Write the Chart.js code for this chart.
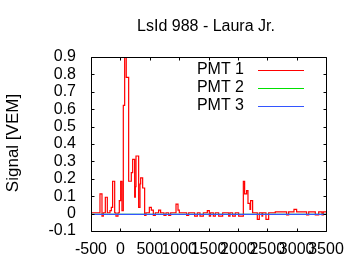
<!DOCTYPE html>
<html>
<head>
<meta charset="utf-8">
<script src="https://cdn.jsdelivr.net/npm/chart.js@4/dist/chart.umd.min.js"></script>
<style>
html,body{margin:0;padding:0;background:#fff;}
#wrap{width:360px;height:270px;position:relative;}
</style>
</head>
<body>
<div id="wrap"><canvas id="c" width="360" height="270"></canvas></div>
<script>
// ---- data ----
const chartTitle = "LsId 988 - Laura Jr.";
const yAxisTitle = "Signal [VEM]";
const seriesNames = ["PMT 1", "PMT 2", "PMT 3"];
const xTicks = [-500, 0, 500, 1000, 1500, 2000, 2500, 3000, 3500];
const yTicks = [-0.1, 0, 0.1, 0.2, 0.3, 0.4, 0.5, 0.6, 0.7, 0.8, 0.9];

// PMT 1 step change points (x) and the value held from that x onward
const pmt1X = [-500, -347, -313, -290, -256, -222, -177, -154, -132, -97, -75, -41, -18, 5, 27, 50, 73, 100, 141,
  186, 209, 243, 255, 266, 311, 334, 345, 379, 413, 436, 493, 527, 561, 595, 651, 685, 742, 776, 822, 856,
  947, 981, 1003, 1128, 1162, 1264, 1310, 1355, 1412, 1480, 1514, 1536, 1582, 1616, 1673, 1741, 1843, 1866,
  1911, 1956, 2013, 2093, 2115, 2149, 2172, 2206, 2217, 2251, 2331, 2365, 2410, 2422, 2478, 2524, 2637,
  2830, 2864, 2955, 3000, 3170, 3205, 3318, 3375, 3432, 3454, 3500];
const pmt1Y = [0.005, 0.113, -0.014, 0.005, 0.094, 0.005, 0.017, 0.036, 0.186, 0.005, -0.014, 0.005, 0.074, 0.186, 0.017, 0.622, 0.95, 0.783, 0.186,
  0.235, 0.312, 0.094, 0.155, 0.331, 0.036, 0.17, 0.205, 0.147, -0.01, 0.005, 0.036, 0.02, -0.01, 0.005, 0.02, 0.005, -0.01, 0.005, -0.01, 0.005,
  0.055, 0.02, 0.005, -0.01, 0.005, -0.014, 0.005, -0.014, 0.005, 0.017, -0.014, 0.005, -0.014, 0.005, -0.014, 0.005, -0.014, 0.005,
  -0.014, 0.005, -0.014, 0.186, 0.113, 0.132, 0.059, 0.024, 0.074, 0.005, -0.033, 0.005, -0.014, 0.005, -0.033, 0.005, 0.01,
  -0.008, 0.01, 0.024, 0.01, -0.008, 0.01, -0.008, 0.01, -0.008, 0.01, 0.01];

const pmt2X = [-500, 500, 1500, 2500, 3500];
const pmt2Y = [-0.004, -0.004, -0.004, -0.004, -0.004];
const pmt3X = [-500, 500, 1500, 2500, 3500];
const pmt3Y = [-0.004, -0.004, -0.004, -0.004, -0.004];

const colors = ["#ff0000", "#00e000", "#3355ff"];
const FONT = "'Liberation Sans', Arial, sans-serif";

// value at x[i] is held until x[i+1]: draw as horizontal-then-vertical steps
function pts(xs, ys) {
  const out = [];
  xs.forEach((x, i) => {
    if (i > 0) out.push({x: x, y: ys[i - 1]});
    out.push({x: x, y: ys[i]});
  });
  return out;
}

const PAD_LEFT = 0, PLOT_LEFT = 91, PLOT_TOP = 57, PLOT_BOTTOM = 231, PLOT_RIGHT = 326;

const framePlugin = {
  id: 'frame',
  afterDraw(chart) {
    const ctx = chart.ctx, a = chart.chartArea;
    const xs = chart.scales.x, ys = chart.scales.y;
    ctx.save();
    ctx.strokeStyle = '#000';
    ctx.lineWidth = 1;
    ctx.beginPath();
    const L = Math.round(a.left) + 0.5, R = Math.round(a.right) + 0.5, T = Math.round(a.top) + 0.5, B = Math.round(a.bottom) + 0.5;
    ctx.rect(L, T, R - L, B - T);
    const tl = 3;
    xTicks.forEach(v => {
      const p = Math.round(xs.getPixelForValue(v)) + 0.5;
      ctx.moveTo(p, B); ctx.lineTo(p, B - tl);
      ctx.moveTo(p, T); ctx.lineTo(p, T + tl);
    });
    yTicks.forEach(v => {
      const p = Math.round(ys.getPixelForValue(v)) + 0.5;
      ctx.moveTo(L, p); ctx.lineTo(L + tl, p);
      ctx.moveTo(R, p); ctx.lineTo(R - tl, p);
    });
    ctx.stroke();

    // title
    ctx.fillStyle = '#000';
    ctx.font = "16px " + FONT;
    ctx.textAlign = 'center';
    ctx.textBaseline = 'middle';
    ctx.fillText(chartTitle, 206, 27);

    // y axis title
    ctx.save();
    ctx.translate(13, 143);
    ctx.rotate(-Math.PI / 2);
    ctx.font = "17px " + FONT;
    ctx.textAlign = 'center';
    ctx.textBaseline = 'middle';
    ctx.fillText(yAxisTitle, 0, 0);
    ctx.restore();

    // legend
    const rows = [70, 88, 106];
    ctx.font = "16px " + FONT;
    ctx.textAlign = 'right';
    ctx.textBaseline = 'middle';
    seriesNames.forEach((n, i) => {
      ctx.fillStyle = '#000';
      ctx.fillText(n, 244, rows[i]);
      ctx.beginPath();
      ctx.strokeStyle = colors[i];
      ctx.moveTo(258, rows[i] + 0.5);
      ctx.lineTo(304, rows[i] + 0.5);
      ctx.stroke();
    });
    ctx.restore();
  }
};

new Chart(document.getElementById('c'), {
  type: 'line',
  data: {
    datasets: [
      {label: seriesNames[0], data: pts(pmt1X, pmt1Y), borderColor: colors[0], borderWidth: 1.2, pointRadius: 0, fill: false, order: 3},
      {label: seriesNames[1], data: pts(pmt2X, pmt2Y), borderColor: colors[1], borderWidth: 1.2, pointRadius: 0, fill: false, order: 2},
      {label: seriesNames[2], data: pts(pmt3X, pmt3Y), borderColor: colors[2], borderWidth: 1.2, pointRadius: 0, fill: false, order: 1}
    ]
  },
  options: {
    responsive: false,
    animation: false,
    layout: {padding: {left: PAD_LEFT, top: PLOT_TOP, right: 360 - PLOT_RIGHT, bottom: 0}},
    plugins: {legend: {display: false}, title: {display: false}, tooltip: {enabled: false}},
    scales: {
      x: {
        type: 'linear', min: -500, max: 3500,
        afterBuildTicks(s) { s.ticks = xTicks.map(v => ({value: v})); },
        afterFit(s) { s.height = 270 - PLOT_BOTTOM; },
        grid: {display: false, drawTicks: false},
        border: {display: false},
        ticks: {autoSkip: false, maxRotation: 0, padding: 9, color: '#000', font: {family: FONT, size: 16},
          callback: v => String(v)}
      },
      y: {
        type: 'linear', min: -0.1, max: 0.9,
        afterBuildTicks(s) { s.ticks = yTicks.map(v => ({value: v})); },
        afterFit(s) { s.width = PLOT_LEFT - PAD_LEFT; },
        grid: {display: false, drawTicks: false},
        border: {display: false},
        ticks: {autoSkip: false, padding: 15, color: '#000', font: {family: FONT, size: 16},
          callback: v => String(Math.round(v * 10) / 10)}
      }
    }
  },
  plugins: [framePlugin]
});
</script>
</body>
</html>
